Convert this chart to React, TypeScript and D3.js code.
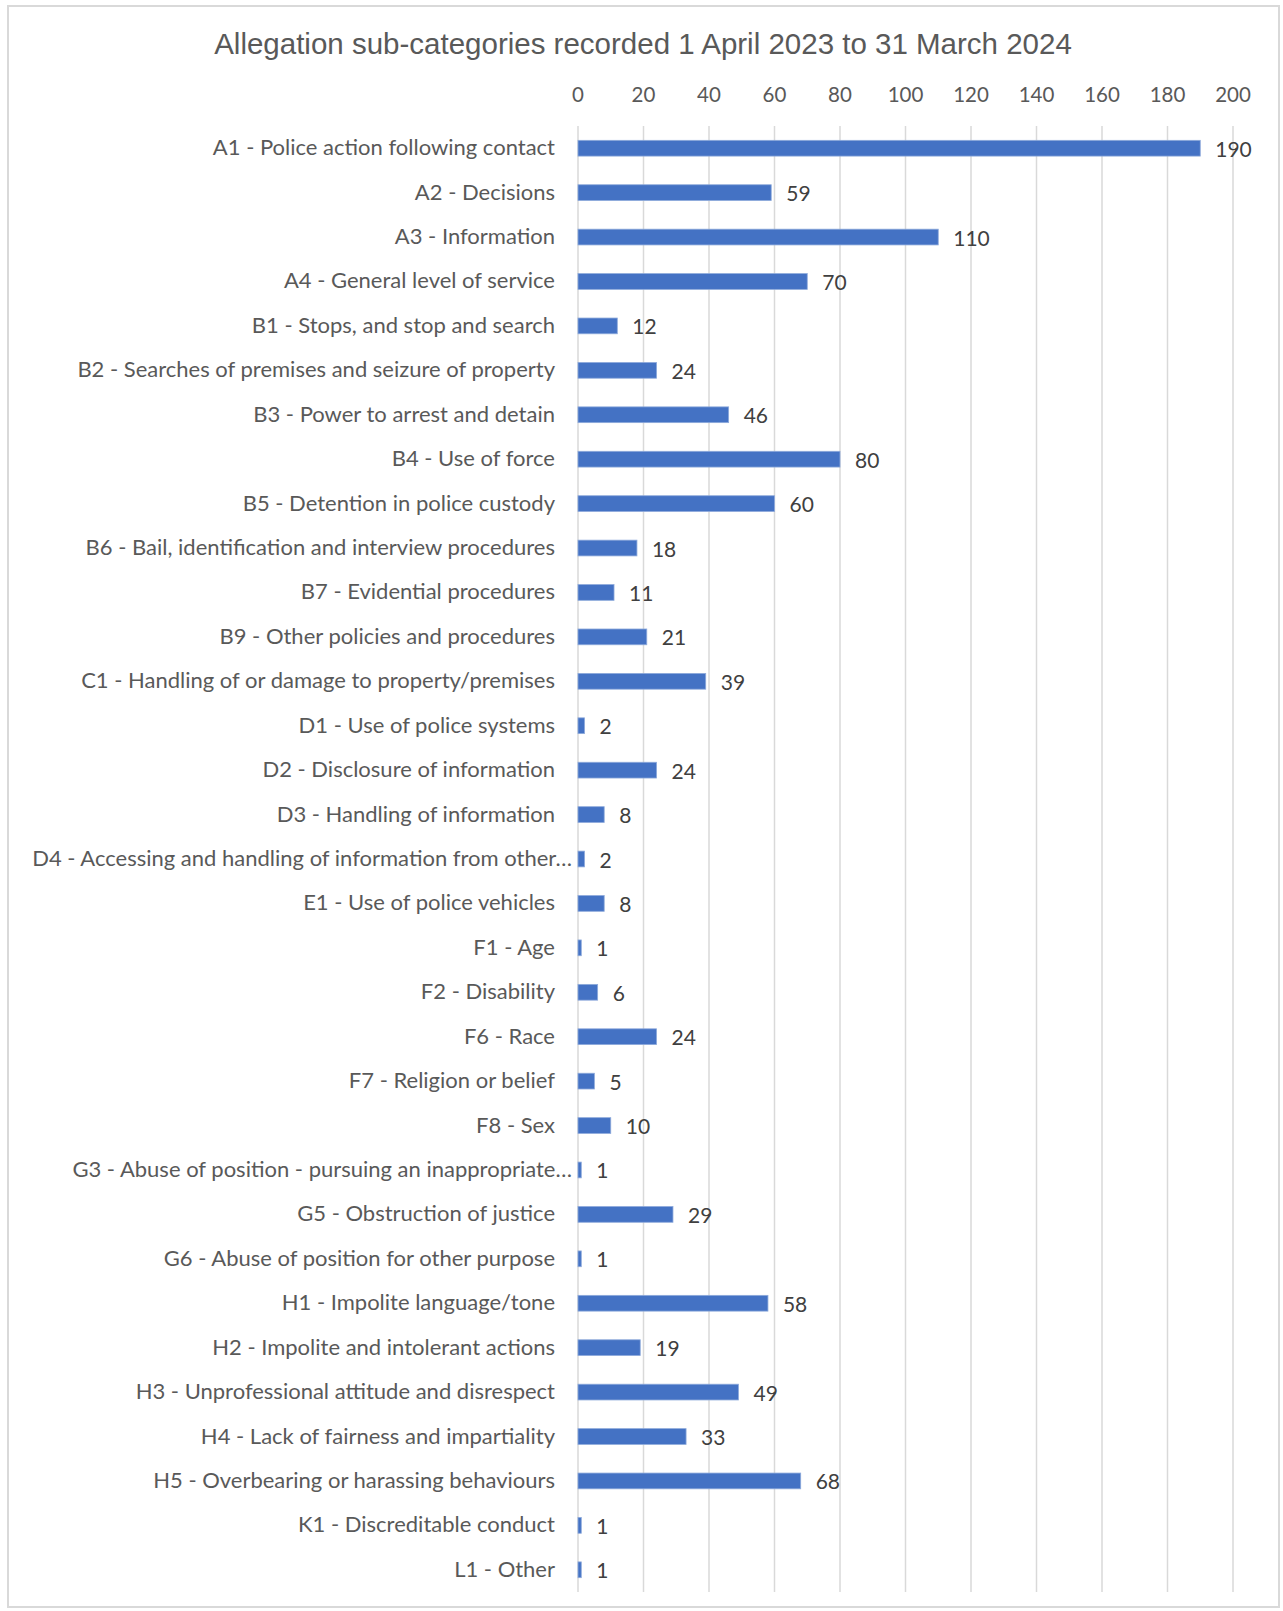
import React from "react";
import * as d3 from "d3";

const title = "Allegation sub-categories recorded 1 April 2023 to 31 March 2024";

const categories = [
  "A1 - Police action following contact",
  "A2 - Decisions",
  "A3 - Information",
  "A4 - General level of service",
  "B1 - Stops, and stop and search",
  "B2 - Searches of premises and seizure of property",
  "B3 - Power to arrest and detain",
  "B4 - Use of force",
  "B5 - Detention in police custody",
  "B6 - Bail, identification and interview procedures",
  "B7 - Evidential procedures",
  "B9 - Other policies and procedures",
  "C1 - Handling of or damage to property/premises",
  "D1 - Use of police systems",
  "D2 - Disclosure of information",
  "D3 - Handling of information",
  "D4 - Accessing and handling of information from other…",
  "E1 - Use of police vehicles",
  "F1 - Age",
  "F2 - Disability",
  "F6 - Race",
  "F7 - Religion or belief",
  "F8 - Sex",
  "G3 - Abuse of position - pursuing an inappropriate…",
  "G5 - Obstruction of justice",
  "G6 - Abuse of position for other purpose",
  "H1 - Impolite language/tone",
  "H2 - Impolite and intolerant actions",
  "H3 - Unprofessional attitude and disrespect",
  "H4 - Lack of fairness and impartiality",
  "H5 - Overbearing or harassing behaviours",
  "K1 - Discreditable conduct",
  "L1 - Other",
];

const counts = [
  190, 59, 110, 70, 12, 24, 46, 80, 60, 18, 11, 21, 39, 2, 24, 8, 2, 8, 1, 6,
  24, 5, 10, 1, 29, 1, 58, 19, 49, 33, 68, 1, 1,
];

const xTicks = [0, 20, 40, 60, 80, 100, 120, 140, 160, 180, 200];

const W = 1283;
const H = 1611;
const plot = { left: 578, right: 1233, top: 126, bottom: 1592 };
const labelFont = "Lato, 'Noto Sans', sans-serif";

export default function App() {
  const x = d3.scaleLinear().domain([0, 200]).range([plot.left, plot.right]);
  const y = d3
    .scaleBand<string>()
    .domain(categories)
    .range([plot.top, plot.bottom])
    .paddingInner(0.645)
    .paddingOuter(0.3225);
  const bw = y.bandwidth();

  return (
    <svg
      width={W}
      height={H}
      viewBox={`0 0 ${W} ${H}`}
      style={{ position: "absolute", left: 0, top: 0, background: "#ffffff" }}
    >
      <rect x={0} y={0} width={W} height={H} fill="#ffffff" />
      <rect
        x={8}
        y={6}
        width={1271}
        height={1601}
        fill="none"
        stroke="#d9d9d9"
        strokeWidth={2}
      />
      <text
        x={643}
        y={54}
        textAnchor="middle"
        fontFamily="'Liberation Sans', Arial, sans-serif"
        fontSize={29.5}
        fill="#595959"
      >
        {title}
      </text>

      {xTicks.map((t) => (
        <g key={t}>
          <line
            x1={x(t)}
            x2={x(t)}
            y1={plot.top}
            y2={plot.bottom}
            stroke="#d9d9d9"
            strokeWidth={1.5}
          />
          <text
            x={x(t)}
            y={94}
            textAnchor="middle"
            dominantBaseline="central"
            fontFamily={labelFont}
            fontSize={20.5}
            fill="#595959"
          >
            {t}
          </text>
        </g>
      ))}

      {categories.map((c, i) => {
        const y0 = y(c) as number;
        const cy = y0 + bw / 2;
        const v = counts[i];
        const truncated = c.endsWith("…");
        return (
          <g key={c}>
            <rect
              x={x(0)}
              y={y0}
              width={x(v) - x(0)}
              height={bw}
              fill="#4472c4"
              stroke="#8eaadb"
              strokeWidth={0.8}
            />
            <text
              x={truncated ? 572 : 555}
              y={cy - 1.5}
              textAnchor="end"
              dominantBaseline="central"
              fontFamily={labelFont}
              fontSize={22}
              fill="#595959"
            >
              {c}
            </text>
            <text
              x={x(v) + 15}
              y={cy}
              dominantBaseline="central"
              fontFamily={labelFont}
              fontSize={21}
              fill="#404040"
            >
              {v}
            </text>
          </g>
        );
      })}
    </svg>
  );
}
